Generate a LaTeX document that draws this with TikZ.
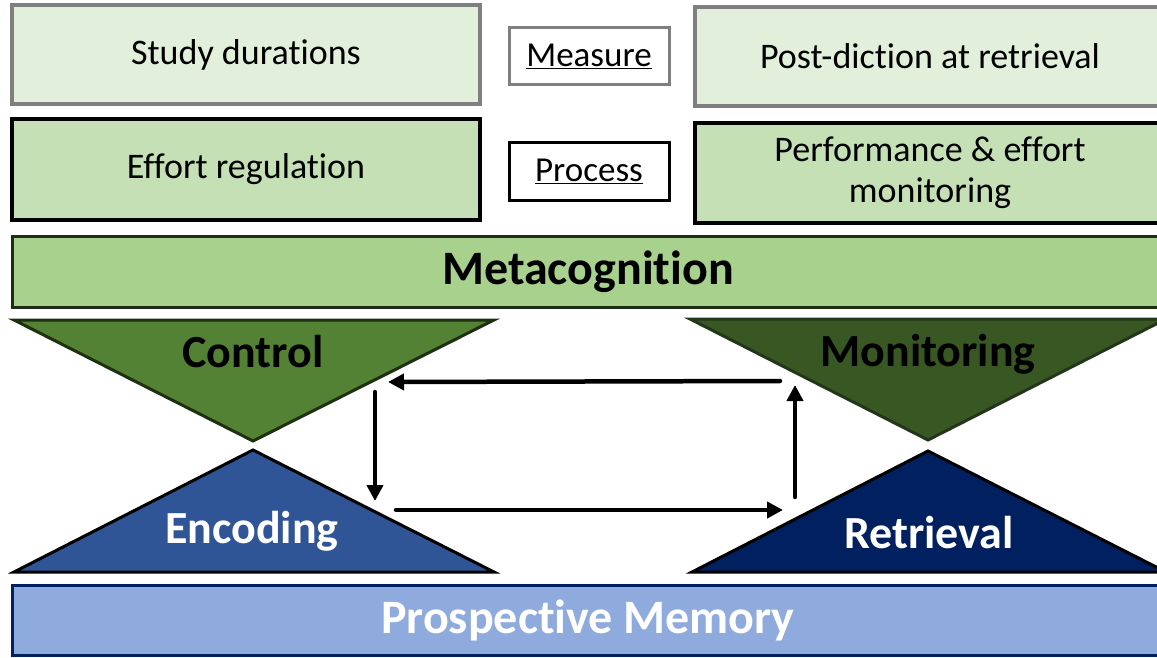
\documentclass[tikz,border=0pt]{standalone}
\usepackage{fontspec}
\setmainfont{Carlito}[Ligatures={NoCommon,NoRequired,NoContextual}, Contextuals=NoAlternate]
\usetikzlibrary{arrows.meta}
\newcommand{\nolig}{\kern0pt}
\definecolor{pale}{HTML}{E2EFDA}
\definecolor{mid}{HTML}{C5E0B4}
\definecolor{meta}{HTML}{A9D18E}
\definecolor{metaline}{HTML}{1E2E14}
\definecolor{ctrl}{HTML}{548235}
\definecolor{ctrlline}{HTML}{1D3010}
\definecolor{moni}{HTML}{385723}
\definecolor{moniline}{HTML}{22361A}
\definecolor{enco}{HTML}{2F5597}
\definecolor{retr}{HTML}{002060}
\definecolor{pmem}{HTML}{8FAADC}
\definecolor{grayline}{HTML}{7F7F7F}
\begin{document}
\begin{tikzpicture}[x=1pt, y=-1pt,
        mbox/.style={rectangle, draw=grayline, fill=pale, line width=4pt, align=center, inner sep=0pt, font=\fontsize{36}{40}\selectfont},
        pbox/.style={rectangle, draw=black, fill=mid, line width=4pt, align=center, inner sep=0pt, font=\fontsize{36}{41}\selectfont},
        tag/.style={rectangle, fill=white, line width=3pt, inner sep=0pt, minimum width=160pt, minimum height=57pt, font=\fontsize{35}{38}\selectfont},
        bar/.style={rectangle, line width=3pt, inner sep=0pt, minimum height=71pt, font=\bfseries\fontsize{48}{52}\selectfont},
        tri/.style={line width=3pt, line join=miter},
        lbl/.style={font=\bfseries\fontsize{46}{50}\selectfont, inner sep=0pt},
        flecha/.style={-{Triangle[length=16pt, width=16pt]}, line width=4.5pt, line cap=round}
    ]
        \useasboundingbox (0,0) rectangle (1157,658);

        % measures and processes
        \node[mbox, minimum width=468pt, minimum height=99pt] (study) at (246,54.5) {Study durations};
        \node[tag, draw=grayline] (measure) at (589,56.5) {\underline{Measure}};
        \node[mbox, minimum width=470pt, minimum height=99pt] (post) at (930,56.5) {Post-dict\nolig ion at retrieval};
        \node[pbox, minimum width=468pt, minimum height=101pt] (effort) at (246,169.5) {Effort regulation};
        \node[tag, draw=black] (process) at (589,171.5) {\underline{Process}};
        \node[pbox, minimum width=470pt, minimum height=100pt] (perf) at (930,173) {Performance \& effort\\monitoring};

        % layers
        \node[bar, draw=metaline, fill=meta, minimum width=1152pt] (meta) at (588,272) {Metacognit\nolig ion};
        \node[bar, draw=retr, fill=pmem, text=white, minimum width=1152pt, minimum height=70pt] (pm) at (588,620) {Prospect\nolig ive Memory};

        % triangles
        \draw[tri, draw=ctrlline, fill=ctrl] (14,320) -- (494,320) -- (253,441) -- cycle;
        \draw[tri, draw=moniline, fill=moni] (690,319) -- (1166,319) -- (928,440) -- cycle;
        \draw[tri, draw=black, fill=enco] (14,572) -- (494,572) -- (253,450) -- cycle;
        \draw[tri, draw=black, fill=retr] (692,572) -- (1166,572) -- (928,451) -- cycle;
        \node[lbl] (control) at (253,352) {Control};
        \node[lbl] (monitoring) at (928,354) {Monitoring};
        \node[lbl, text=white] (encoding) at (252,531) {Encoding};
        \node[lbl, text=white] (retrieval) at (929,533) {Retrieval};

        % loop
        \coordinate (mL) at (388,382);
        \coordinate (mR) at (780,381);
        \coordinate (dT) at (375,392);
        \coordinate (dB) at (375,501);
        \coordinate (bL) at (396,510);
        \coordinate (bR) at (783,510);
        \coordinate (uB) at (795,497);
        \coordinate (uT) at (795,385);
        \draw[flecha] (mR) -- (mL);
        \draw[flecha] (dT) -- (dB);
        \draw[flecha] (bL) -- (bR);
        \draw[flecha] (uB) -- (uT);
    \end{tikzpicture}
\end{document}
